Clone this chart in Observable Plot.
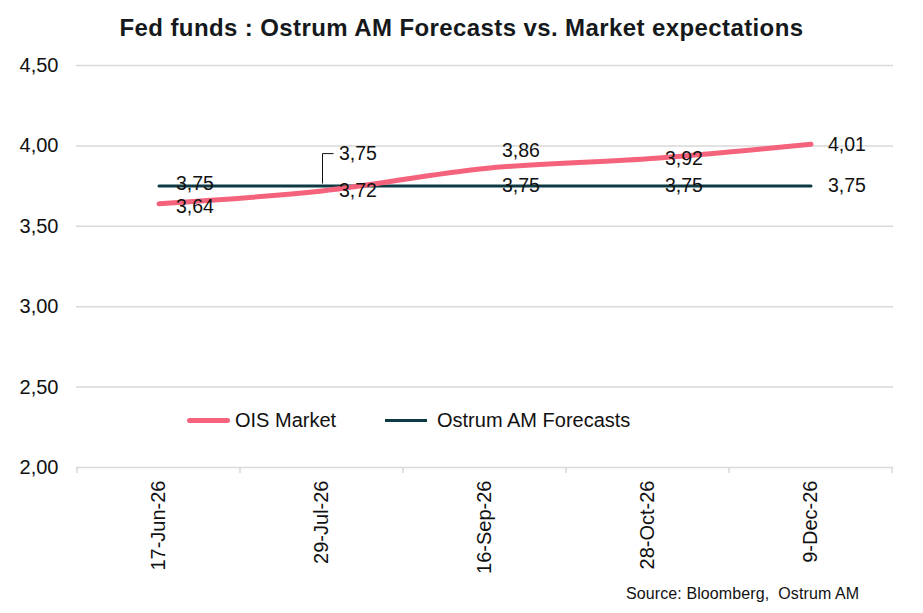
<!DOCTYPE html>
<html><head><meta charset="utf-8">
<script src="https://cdn.jsdelivr.net/npm/d3@7"></script>
<script src="https://cdn.jsdelivr.net/npm/@observablehq/plot@0.6"></script>
<style>
body{margin:0;background:#fff;font-family:"Liberation Sans",Arial,sans-serif;color:#111;}
#wrap{position:relative;width:923px;height:613px;overflow:hidden;}
#chart{position:absolute;left:0;top:0;}
#title{position:absolute;left:0;top:14px;width:923px;text-align:center;font-weight:bold;font-size:24px;color:#16191c;letter-spacing:0.4px;white-space:nowrap;}
#source{position:absolute;left:626px;top:585px;font-size:16px;color:#111;white-space:pre;letter-spacing:0.1px;}
.leg{position:absolute;top:408px;height:24px;display:flex;align-items:center;font-size:20px;color:#111;white-space:nowrap;}
.sw{display:inline-block;border-radius:3px;}
</style></head><body>
<div id="wrap">
  <div id="title">Fed funds : Ostrum AM Forecasts vs. Market expectations</div>
  <div id="chart"></div>
  <div class="leg" style="left:187px"><span class="sw" style="width:43px;height:5px;background:#f4637b;margin-right:5px"></span>OIS Market</div>
  <div class="leg" style="left:385px"><span class="sw" style="width:42px;height:3px;background:#0e3b43;margin-right:10px;border-radius:0"></span>Ostrum AM Forecasts</div>
  <div id="source">Source: Bloomberg,  Ostrum AM</div>
</div>
<script>
// ---- data ----
const dates = ["17-Jun-26", "29-Jul-26", "16-Sep-26", "28-Oct-26", "9-Dec-26"];
const oisMarket = [3.64, 3.72, 3.86, 3.92, 4.01];
const ostrumForecasts = [3.75, 3.75, 3.75, 3.75, 3.75];
const yTicks = [2.0, 2.5, 3.0, 3.5, 4.0, 4.5];

// label vertical nudges (px), kept apart from the data
const oisLabelDy = [3, 0, -18, 0, 0];
const fcLabelDy = [-2, -32, 0, 0, 0];

const PINK = "#f4637b", DARK = "#0e3b43";
const fmt = v => d3.format(".2f")(v).replace(".", ",");

const ois = dates.map((d, i) => ({date: d, value: oisMarket[i], dy: oisLabelDy[i]}));
const fc = dates.map((d, i) => ({date: d, value: ostrumForecasts[i], dy: fcLabelDy[i]}));

const labelMarks = [...ois, ...fc].map(r =>
  Plot.text([r], {x: "date", y: "value", text: d => fmt(d.value), textAnchor: "start", dx: 17, dy: r.dy, fontSize: 19.5, fill: "#111"})
);

const plot = Plot.plot({
  width: 923,
  height: 613,
  marginTop: 65,
  marginBottom: 146,
  marginLeft: 76,
  marginRight: 30,
  style: {fontFamily: "'Liberation Sans', Arial, sans-serif", fontSize: "20px", color: "#111", background: "transparent"},
  x: {type: "band", domain: dates, padding: 0, label: null},
  y: {domain: [2, 4.5], label: null},
  marks: [
    Plot.gridY(yTicks, {stroke: "#d9d9d9", strokeOpacity: 1, strokeWidth: 1.5}),
    Plot.axisY(yTicks, {tickFormat: fmt, tickSize: 0, tickPadding: 18, fontSize: 20, label: null}),
    Plot.axisX({tickSize: 0, tickPadding: 13, tickRotate: -90, fontSize: 20, label: null}),
    Plot.line(fc, {x: "date", y: "value", stroke: DARK, strokeWidth: 3}),
    Plot.line(ois, {x: "date", y: "value", stroke: PINK, strokeWidth: 5, curve: "monotone-x"}),
    ...labelMarks
  ]
});
document.getElementById("chart").appendChild(plot);

// band-edge ticks and the callout leader, placed with the plot's own scales
const xs = plot.scale("x"), ys = plot.scale("y");
const svg = d3.select(plot);
const y0 = ys.apply(2);
const edges = dates.map(d => xs.apply(d)).concat([xs.apply(dates[dates.length - 1]) + xs.bandwidth]);
svg.append("g").selectAll("line").data(edges).join("line")
  .attr("x1", d => d).attr("x2", d => d).attr("y1", y0).attr("y2", y0 + 6)
  .attr("stroke", "#d9d9d9").attr("stroke-width", 1.5);
fc.forEach(r => {
  if (r.dy < -10) {
    const cx = xs.apply(r.date) + xs.bandwidth / 2 + 1;
    const cy = ys.apply(r.value);
    svg.append("path")
      .attr("d", `M${cx},${cy - 2}V${cy + r.dy}H${cx + 11}`)
      .attr("fill", "none").attr("stroke", "#111").attr("stroke-width", 1);
  }
});
</script>
</body></html>
